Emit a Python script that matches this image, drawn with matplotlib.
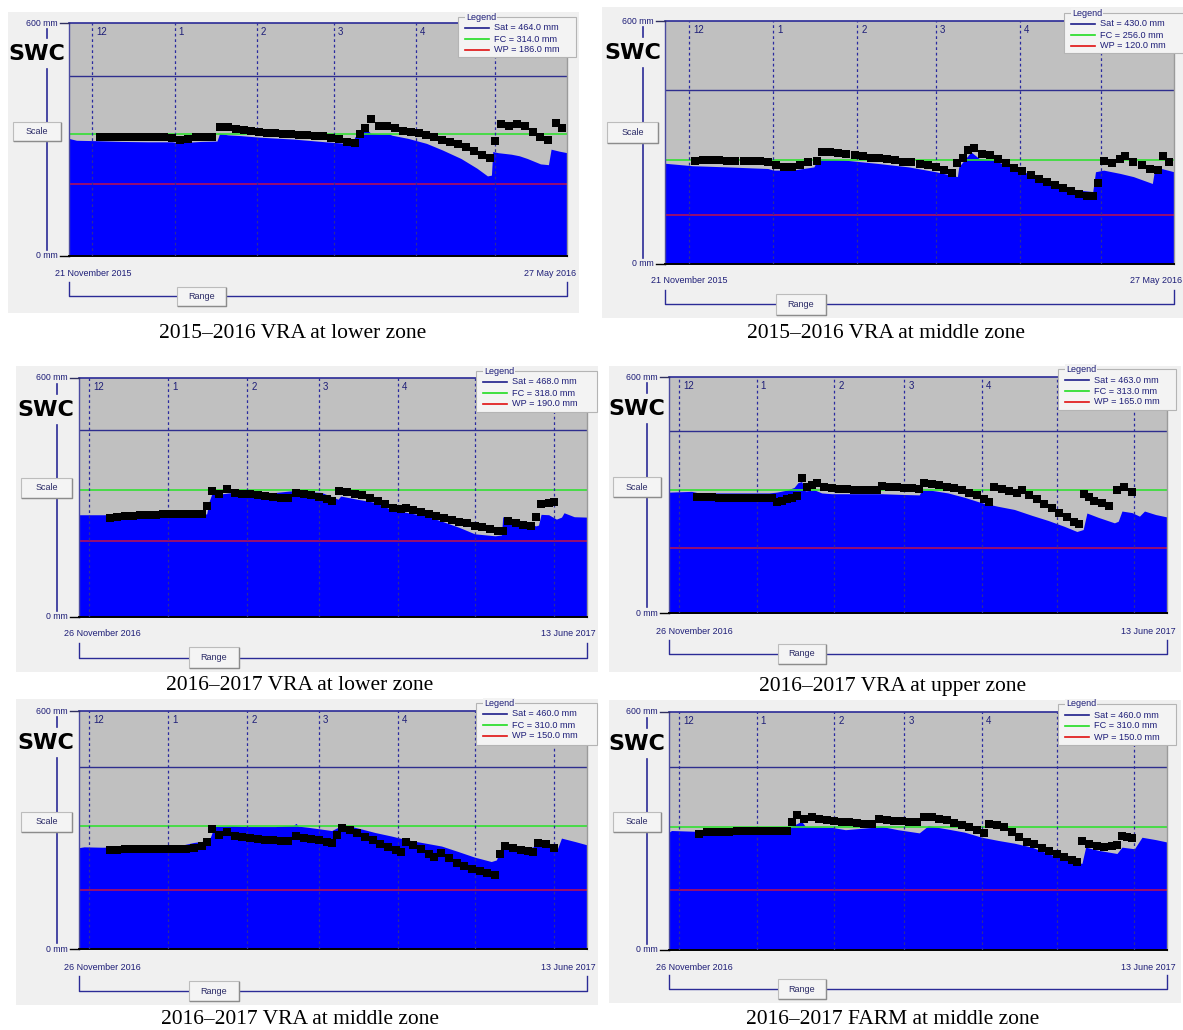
import matplotlib
matplotlib.use("Agg")
import matplotlib.pyplot as plt
from matplotlib.patches import Rectangle
from matplotlib.lines import Line2D
from datetime import date

# ---------------- data ----------------
start_1516, end_1516 = date(2015, 11, 21), date(2016, 5, 27)
start_1617, end_1617 = date(2016, 11, 26), date(2017, 6, 13)

captions = ["2015\u20132016 VRA at lower zone", "2015\u20132016 VRA at middle zone",
            "2016\u20132017 VRA at lower zone", "2016\u20132017 VRA at upper zone",
            "2016\u20132017 VRA at middle zone", "2016\u20132017 FARM at middle zone"]

# thresholds (Sat, FC, WP) in mm
p1_limits = (464.0, 314.0, 186.0)
p2_limits = (430.0, 256.0, 120.0)
p3_limits = (468.0, 318.0, 190.0)
p4_limits = (463.0, 313.0, 165.0)
p5_limits = (460.0, 310.0, 150.0)
p6_limits = (460.0, 310.0, 150.0)

# ---- panel 1: 2015-2016 VRA lower zone ----
p1_sim_days = [0, 3, 10, 20, 30, 39, 41, 45, 50, 56, 57, 60, 65, 72, 85, 97, 103, 107, 108, 111,
               112, 114, 118, 121, 122, 128, 135, 141, 148, 154, 158, 159.5, 160, 162, 167, 170,
               173, 178, 181, 182, 185, 188]
p1_sim = [303, 298, 297, 295, 294, 294, 292, 293, 295, 296, 316, 312, 310, 306, 301, 294, 291, 286,
          307, 318, 329, 316, 314, 314, 311, 303, 290, 273, 251, 226, 206, 208, 269, 266, 262, 258,
          251, 237, 235, 275, 270, 266]
p1_obs_days = [12, 15, 18, 21, 24, 27, 30, 33, 36, 39, 42, 45, 48, 51, 54, 57, 60, 63, 66, 69, 72,
               75, 78, 81, 84, 87, 90, 93, 96, 99, 102, 105, 108, 110, 112, 114, 117, 120, 123, 126,
               129, 132, 135, 138, 141, 144, 147, 150, 153, 156, 159, 161, 163, 166, 169, 172, 175,
               178, 181, 184, 186]
p1_obs = [306, 306, 306, 306, 306, 306, 306, 306, 306, 305, 299, 300, 306, 307, 307, 331, 332, 327,
          324, 322, 320, 318, 316, 315, 313, 312, 311, 310, 308, 305, 300, 294, 290, 314, 330, 352,
          336, 336, 330, 323, 319, 316, 312, 306, 299, 294, 288, 280, 270, 260, 251, 297, 340, 335,
          340, 335, 320, 306, 299, 343, 329]

# ---- panel 2: 2015-2016 VRA middle zone ----
p2_sim_days = [0, 10, 23, 38, 40, 47, 55, 56.5, 66, 78, 90, 100, 108, 108.5, 113, 116, 121, 128,
               134, 140, 146, 152, 158, 159, 162, 168, 173, 180, 181, 188]
p2_sim = [248, 242, 239, 235, 231, 231, 239, 260, 256, 248, 239, 227, 215, 239, 276, 260, 256, 239,
          223, 206, 194, 182, 178, 227, 231, 223, 215, 198, 239, 227]
p2_obs_days = [11, 14, 17, 20, 23, 26, 29, 32, 35, 38, 41, 44, 47, 50, 53, 56, 58, 61, 64, 67, 70,
               73, 76, 79, 82, 85, 88, 91, 94, 97, 100, 103, 106, 108, 110, 112, 114, 117, 120, 123,
               126, 129, 132, 135, 138, 141, 144, 147, 150, 153, 156, 158, 160, 162, 165, 168, 170,
               173, 176, 179, 182, 184, 186]
p2_obs = [254, 255, 255, 255, 254, 254, 254, 254, 254, 252, 244, 239, 240, 244, 250, 254, 276, 277,
          274, 271, 268, 265, 262, 260, 258, 255, 252, 250, 247, 244, 238, 231, 223, 248, 262, 280,
          285, 272, 268, 259, 248, 237, 228, 220, 209, 201, 195, 187, 180, 173, 168, 167, 198, 254,
          249, 258, 266, 252, 243, 234, 231, 266, 252]

# ---- panel 3: 2016-2017 VRA lower zone ----
p3_sim_days = [0, 11, 20, 30, 40, 50, 51, 52, 54, 60, 66, 77, 83, 90, 95, 101.5, 102.5, 109, 116,
               122, 129, 136, 142, 149, 155, 163, 165.5, 166, 169, 174, 179, 180, 181, 184, 187,
               189, 190, 194, 199]
p3_sim = [256, 256, 255, 256, 257, 258, 290, 308, 307, 312, 312, 312, 316, 314, 312, 295, 303, 295,
          287, 270, 261, 253, 240, 224, 208, 203, 205, 251, 242, 236, 228, 230, 257, 256, 245, 250,
          261, 251, 250]
p3_obs_days = [12, 15, 18, 21, 24, 27, 30, 33, 36, 39, 42, 45, 48, 50, 52, 55, 58, 61, 64, 67, 70,
               73, 76, 79, 82, 85, 88, 91, 94, 97, 99, 102, 105, 108, 111, 114, 117, 120, 123, 126,
               128, 131, 134, 137, 140, 143, 146, 149, 152, 155, 158, 161, 164, 166, 168, 171, 174,
               177, 179, 181, 184, 186]
p3_obs = [249, 250, 252, 254, 255, 256, 256, 257, 257, 258, 258, 259, 259, 278, 316, 307, 320, 311,
          309, 308, 306, 304, 300, 299, 298, 311, 308, 305, 300, 295, 291, 316, 313, 309, 305, 298,
          290, 282, 273, 270, 273, 268, 262, 258, 253, 248, 243, 238, 234, 228, 224, 219, 216, 215,
          240, 235, 231, 228, 251, 282, 286, 287]

# ---- panel 4: 2016-2017 VRA upper zone ----
p4_sim_days = [0, 9, 12, 20, 30, 40, 43, 47, 50, 51.5, 53, 54.5, 58, 61, 65, 85, 94, 100, 101,
               104.5, 111.5, 118, 125, 131.5, 138, 145, 151.5, 158, 163, 165.5, 167, 171.5, 178,
               179.5, 181, 185, 188, 190, 194.5, 199]
p4_sim = [308, 310, 306, 306, 306, 306, 308, 313, 320, 332, 335, 311, 314, 306, 304, 304, 302, 301,
          313, 313, 306, 295, 281, 272, 264, 249, 236, 221, 208, 213, 255, 244, 230, 234, 260, 256,
          247, 260, 251, 245]
p4_obs_days = [11, 14, 17, 20, 23, 26, 29, 32, 35, 38, 41, 43, 45, 47, 49, 51, 53, 55, 57, 59, 62,
               65, 68, 71, 74, 77, 80, 83, 85, 88, 91, 94, 97, 100, 102, 105, 108, 111, 114, 117,
               120, 123, 126, 128, 130, 133, 136, 139, 141, 144, 147, 150, 153, 156, 159, 162, 164,
               166, 168, 170, 173, 176, 179, 182, 185]
p4_obs = [296, 296, 295, 294, 294, 294, 294, 294, 294, 294, 294, 283, 286, 290, 294, 298, 345, 321,
          326, 332, 320, 318, 316, 315, 314, 313, 313, 313, 323, 321, 320, 319, 318, 317, 332, 328,
          325, 321, 318, 313, 307, 300, 290, 284, 320, 316, 310, 307, 313, 300, 290, 279, 268, 256,
          244, 232, 227, 303, 296, 285, 280, 272, 313, 320, 308]

# ---- panel 5: 2016-2017 VRA middle zone ----
p5_sim_days = [0, 2, 9, 20, 30, 40, 45, 51, 53, 60, 66, 77, 84, 85, 86, 90, 99, 103.6, 109.4, 116,
               122.5, 129, 136, 142, 148.6, 155, 161.5, 163.5, 166, 168, 174.6, 178, 180, 185, 187,
               189, 194.5, 199]
p5_sim = [256, 258, 257, 258, 258, 262, 269, 274, 309, 311, 309, 309, 312, 317, 310, 307, 299, 314,
          305, 294, 285, 275, 267, 260, 246, 232, 221, 225, 267, 263, 254, 258, 271, 263, 246, 280,
          271, 263]
p5_obs_days = [12, 15, 18, 21, 24, 27, 30, 33, 36, 39, 42, 45, 48, 50, 52, 55, 58, 61, 64, 67, 70,
               73, 76, 79, 82, 85, 88, 91, 94, 97, 99, 101, 103, 106, 109, 112, 115, 118, 121, 124,
               126, 128, 131, 134, 137, 139, 142, 145, 148, 151, 154, 157, 160, 163, 165, 167, 170,
               173, 176, 178, 180, 183, 186]
p5_obs = [250, 251, 252, 252, 252, 252, 252, 252, 252, 252, 253, 255, 259, 269, 302, 288, 296, 286,
          283, 279, 277, 276, 275, 273, 272, 286, 281, 277, 274, 270, 267, 288, 305, 300, 292, 284,
          276, 265, 257, 250, 246, 271, 262, 253, 240, 232, 243, 230, 217, 210, 203, 197, 192, 186,
          240, 259, 255, 250, 247, 246, 267, 264, 254]

# ---- panel 6: 2016-2017 FARM middle zone ----
p6_sim_days = [0, 1, 10.6, 20, 37, 47, 48, 53, 54.5, 65, 70.5, 85, 91.5, 100, 103.6, 111, 118, 125,
               131.5, 138, 145, 151.5, 158, 165, 166.5, 171.6, 179, 181, 186, 189, 194.5, 199]
p6_sim = [296, 300, 298, 300, 304, 306, 308, 323, 310, 308, 302, 310, 302, 294, 312, 304, 296, 283,
          275, 268, 258, 242, 227, 217, 258, 250, 242, 258, 254, 283, 277, 271]
p6_obs_days = [12, 15, 18, 21, 24, 27, 30, 33, 36, 39, 42, 45, 47, 49, 51, 54, 57, 60, 63, 66, 69,
               72, 75, 78, 81, 84, 87, 90, 93, 96, 99, 102, 105, 108, 111, 114, 117, 120, 123, 126,
               128, 131, 134, 137, 140, 143, 146, 149, 152, 155, 158, 161, 163, 165, 168, 171, 174,
               177, 179, 181, 183, 185]
p6_obs = [292, 296, 296, 297, 297, 298, 298, 299, 299, 299, 300, 300, 300, 321, 340, 329, 333, 330,
          327, 325, 322, 321, 319, 317, 317, 329, 326, 324, 323, 322, 321, 335, 333, 330, 327, 320,
          314, 308, 302, 294, 317, 313, 308, 296, 283, 272, 265, 256, 249, 241, 233, 226, 221, 273,
          267, 262, 258, 262, 263, 285, 283, 282]

# ---------------- layout (pixel coordinates, origin top-left) ----------------
LAYOUTS = [
    dict(bg=(8, 12, 579, 313), plot=(68.5, 23.3, 567, 255.7), vline=47, swc=(37, 54),
         scale=(13, 122, 61, 141), date_y=273, date_l=55, date_r=576, bracket=(282, 296),
         rng=(177, 287, 226, 306), legend=(458, 17, 576, 57), caption=(293, 333)),
    dict(bg=(602, 7, 1183, 318), plot=(665, 21, 1174, 263.5), vline=643, swc=(633, 53),
         scale=(607, 122, 658, 143), date_y=281, date_l=651, date_r=1182, bracket=(290, 304),
         rng=(776, 294, 826, 315), legend=(1064, 13, 1190, 53), caption=(886, 333)),
    dict(bg=(16, 366, 598, 672), plot=(79, 378, 587, 616.5), vline=57, swc=(46, 410),
         scale=(21, 478, 72, 498), date_y=634, date_l=64, date_r=596, bracket=(643, 658),
         rng=(189, 647, 239, 668), legend=(476, 371, 597, 412), caption=(300, 686)),
    dict(bg=(609, 366, 1181, 672), plot=(669, 377.3, 1167, 613.3), vline=647, swc=(637, 409),
         scale=(613, 477, 661, 497), date_y=632, date_l=656, date_r=1176, bracket=(640, 654),
         rng=(778, 644, 826, 664), legend=(1058, 369, 1176, 410), caption=(893, 686)),
    dict(bg=(16, 699, 598, 1005), plot=(79, 711, 587, 949.3), vline=57, swc=(46, 743),
         scale=(21, 812, 72, 832), date_y=968, date_l=64, date_r=596, bracket=(976, 991),
         rng=(189, 981, 239, 1001), legend=(476, 703, 597, 745), caption=(300, 1019)),
    dict(bg=(609, 700, 1181, 1003), plot=(669, 711.5, 1167, 949.5), vline=647, swc=(637, 744),
         scale=(613, 812, 661, 832), date_y=967, date_l=656, date_r=1176, bracket=(975, 989),
         rng=(778, 979, 826, 999), legend=(1058, 704, 1176, 745), caption=(893, 1019)),
]

W, H = 1183, 1030
fig = plt.figure(figsize=(W / 100, H / 100), dpi=100)
fig.patch.set_facecolor("white")

SANS = ["Liberation Sans", "DejaVu Sans"]
SERIF = ["Liberation Serif", "DejaVu Serif"]
NAVY = "#1e1e78"
LNAVY = "#2b2b96"


def X(x):
    return x / W


def Y(y):
    return 1 - y / H


def fline(xs, ys, **kw):
    fig.add_artist(Line2D([X(v) for v in xs], [Y(v) for v in ys],
                          transform=fig.transFigure, **kw))


def frect(x0, y0, x1, y1, **kw):
    fig.add_artist(Rectangle((X(x0), Y(y1)), (x1 - x0) / W, (y1 - y0) / H,
                             transform=fig.transFigure, **kw))


def ftext(x, y, s, **kw):
    fig.text(X(x), Y(y), s, **kw)


def button(box, label):
    x0, y0, x1, y1 = box
    frect(x0, y0, x1, y1, facecolor="#f4f4f4", edgecolor="#bcbcbc", lw=0.8, zorder=5)
    fline([x0 + 1, x1, x1], [y1, y1, y0 + 1], color="#8c8c8c", lw=1.0, zorder=5)
    ftext((x0 + x1) / 2, (y0 + y1) / 2, label, ha="center", va="center", fontsize=6.5,
          color="#2a2a66", family=SANS, zorder=6)


def datestr(d):
    return f"{d.day} {d.strftime('%B')} {d.year}"


def panel(L, start, end, sim_d, sim_v, obs_d, obs_v, limits, caption):
    sat, fc, wp = limits
    frect(*L["bg"], facecolor="#f0f0f0", edgecolor="none", zorder=-10)
    l, t, r, b = L["plot"]
    lx0, ly0, lx1, ly1 = L["legend"]
    ndays = (end - start).days
    ax = fig.add_axes([X(l), Y(b), (r - l) / W, (b - t) / H])
    ax.set_xlim(0, ndays)
    ax.set_ylim(0, 600)
    ax.set_facecolor("#c0c0c0")
    ax.fill_between(sim_d, 0, sim_v, color="#0000ff", lw=0, zorder=1)
    ax.axhline(sat, color="#2e2e8e", lw=1.0, zorder=2)
    ax.axhline(fc, color="#33e033", lw=1.2, zorder=2)
    ax.axhline(wp, color="#b0105a", lw=1.2, zorder=2)
    yy, mm = start.year, start.month
    while True:
        mm += 1
        if mm > 12:
            mm, yy = 1, yy + 1
        first = date(yy, mm, 1)
        if first > end:
            break
        pos = (first - start).days - 1
        ax.axvline(pos, color="#2a2aa0", lw=0.9, ls=(0, (2.2, 2.2)), zorder=3)
        px = l + (r - l) * pos / ndays
        if px + 4 < lx0 - 8:   # labels under the legend box are hidden in the original
            ax.annotate(str(mm), xy=(pos, 600), xytext=(4, -9), textcoords="offset pixels",
                        fontsize=7, color=NAVY, family=SANS, ha="left", va="center", zorder=3)
    ax.plot(obs_d, obs_v, "s", color="black", ms=6.4, mew=0, zorder=4)
    ax.set_xticks([])
    ax.set_yticks([])
    for side, c, w in [("top", LNAVY, 1.2), ("bottom", "#000000", 1.4),
                       ("left", "#4a4aa0", 1.0), ("right", "#9a9a9a", 1.0)]:
        ax.spines[side].set_color(c)
        ax.spines[side].set_linewidth(w)

    # left scale decorations
    fline([l - 9, l], [t, t], color="#303060", lw=1.0, zorder=2)
    fline([l - 9, l], [b, b], color="#000000", lw=1.0, zorder=2)
    ftext(l - 11, t, "600 mm", ha="right", va="center", fontsize=6.3, color=NAVY, family=SANS)
    ftext(l - 11, b, "0 mm", ha="right", va="center", fontsize=6.3, color=NAVY, family=SANS)
    vx = L["vline"]
    sx, sy = L["swc"]
    sc = L["scale"]
    fline([vx, vx], [t + 6, sy - 16], color=LNAVY, lw=1.2, zorder=1)
    fline([vx, vx], [sy + 15, sc[1]], color=LNAVY, lw=1.2, zorder=1)
    fline([vx, vx], [sc[3], b - 6], color=LNAVY, lw=1.2, zorder=1)
    ftext(sx, sy, "SWC", ha="center", va="center", fontsize=16, fontweight="bold",
          color="black", family=["DejaVu Sans"], zorder=6)
    button(sc, "Scale")

    # bottom range decorations
    dy = L["date_y"]
    ftext(L["date_l"], dy, datestr(start), ha="left", va="center", fontsize=6.5,
          color=NAVY, family=SANS)
    ftext(L["date_r"], dy, datestr(end), ha="right", va="center", fontsize=6.5,
          color=NAVY, family=SANS)
    bt, bb = L["bracket"]
    fline([l, l, r, r], [bt, bb, bb, bt], color=LNAVY, lw=1.0, zorder=2)
    button(L["rng"], "Range")

    # legend box
    frect(lx0, ly0, lx1, ly1, facecolor="#f3f3f3", edgecolor="#b4b4b4", lw=0.8, zorder=10)
    ftext(lx0 + 8, ly0, "Legend", ha="left", va="center", fontsize=6.5, color=NAVY,
          family=SANS, zorder=11, bbox=dict(facecolor="#f3f3f3", edgecolor="none", pad=0.6))
    rows = [("Sat", sat, "#1e1e8a"), ("FC", fc, "#22dd22"), ("WP", wp, "#e01010")]
    for i, (name, val, col) in enumerate(rows):
        ry = ly0 + 11 + i * 11
        fline([lx0 + 7, lx0 + 31], [ry, ry], color=col, lw=1.2, zorder=11)
        ftext(lx0 + 36, ry, f"{name} = {val:.1f} mm", ha="left", va="center", fontsize=6.6,
              color=NAVY, family=SANS, zorder=11)

    cx, cy = L["caption"]
    ftext(cx, cy, caption, ha="center", va="center", fontsize=15.5, family=SERIF,
          color="black")


panel(LAYOUTS[0], start_1516, end_1516, p1_sim_days, p1_sim, p1_obs_days, p1_obs, p1_limits, captions[0])
panel(LAYOUTS[1], start_1516, end_1516, p2_sim_days, p2_sim, p2_obs_days, p2_obs, p2_limits, captions[1])
panel(LAYOUTS[2], start_1617, end_1617, p3_sim_days, p3_sim, p3_obs_days, p3_obs, p3_limits, captions[2])
panel(LAYOUTS[3], start_1617, end_1617, p4_sim_days, p4_sim, p4_obs_days, p4_obs, p4_limits, captions[3])
panel(LAYOUTS[4], start_1617, end_1617, p5_sim_days, p5_sim, p5_obs_days, p5_obs, p5_limits, captions[4])
panel(LAYOUTS[5], start_1617, end_1617, p6_sim_days, p6_sim, p6_obs_days, p6_obs, p6_limits, captions[5])

fig.savefig("out.png", dpi=100, facecolor="white")
